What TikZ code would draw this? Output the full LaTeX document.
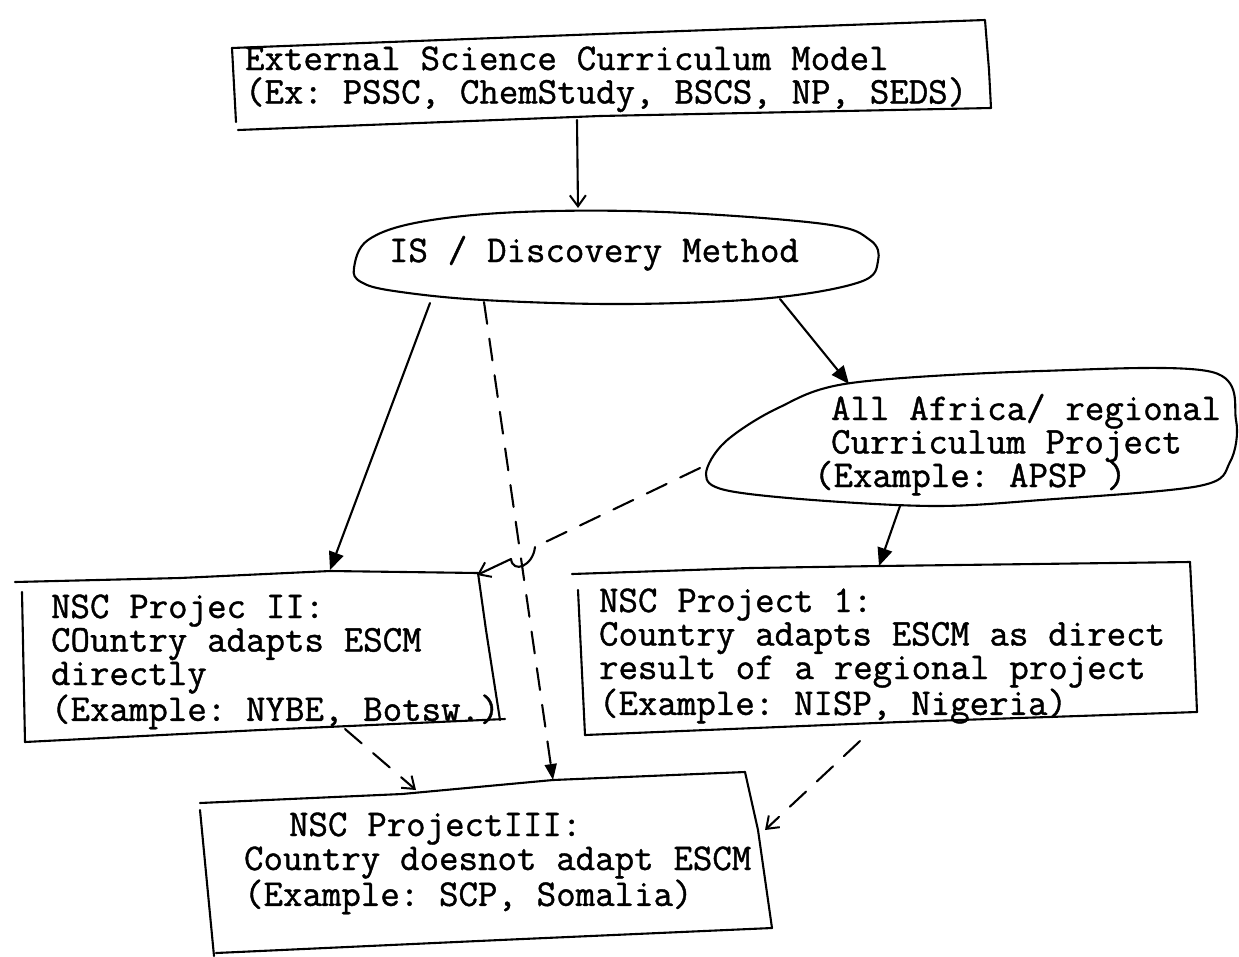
\documentclass[tikz,border=0pt]{standalone}
\usepackage{fontspec}
\newfontfamily\courfont{Latin Modern Mono}[FakeBold=1.1]
\usetikzlibrary{arrows.meta}
\newcommand\typeset{\courfont\fontsize{37.8}{33.5}\selectfont}
\newcommand\wsp{\hspace*{0.525em}}
\begin{document}
\begin{tikzpicture}[x=1pt,y=-1pt,
  line width=2.1pt, line join=round, line cap=round,
  txt/.style={font=\typeset, align=left, inner sep=0pt, anchor=base west, text width=#1},
  sketch/.style={line width=2.1pt},
  solidarrow/.style={-{Triangle[length=18pt,width=15pt]}},
  openarrow/.style={-{Straight Barb[length=11pt,width=16pt,line width=2pt]}},
  dashline/.style={dash pattern=on 22pt off 15pt}]
\useasboundingbox (0,0) rectangle (1239,956);

% ---------- top box ----------
\draw[sketch] (232,48) -- (600,34) -- (985,20) -- (989,70) -- (991,108) -- (600,116) -- (238,130);
\draw[sketch] (232,48) -- (236,122);
\node[txt=790pt] (esc) at (244,70) {External\wsp Science\wsp Curriculum\wsp Model\\(Ex:\wsp PSSC,\wsp ChemStudy,\wsp BSCS,\wsp NP,\wsp SEDS)};
\coordinate (esc-b) at (577,120);

% ---------- IS ellipse ----------
\draw[sketch] plot[smooth cycle, tension=0.6] coordinates {(354,268) (368,240) (420,222) (520,212) (663,212) (824,224) (870,240) (878,261) (860,282) (770,298) (627,304) (483,300) (394,291) (361,282)};
\node[txt=500pt] (isd) at (388,262) {IS\wsp /\wsp Discovery\wsp Method};
\coordinate (isd-t) at (578,208);
\coordinate (isd-l) at (430,303);
\coordinate (isd-m) at (484,302);
\coordinate (isd-r) at (780,299);

% ---------- All Africa ellipse ----------
\draw[sketch] plot[smooth cycle, tension=0.55] coordinates {(851,383) (1041,371) (1212,372) (1236,420) (1230,462) (1199,486) (1041,500) (936,506) (813,500) (725,490) (706,474) (725,442) (778,408)};
\node[txt=420pt] (aa) at (830,420) {All\wsp Africa/\wsp regional\\Curriculum\wsp Project};
\node[txt=420pt] (aaex) at (813,487) {(Example:\wsp APSP\wsp )};
\coordinate (aa-t) at (849,384);
\coordinate (aa-b) at (900,506);
\coordinate (aa-w) at (700,468);

% ---------- NSC Project II ----------
\draw[sketch] (15,582) -- (180,578) -- (330,571) -- (478,573);
\draw[sketch] (478,573) -- (486,630) -- (500,720);
\draw[sketch] (505,719) -- (260,730) -- (25,742);
\draw[sketch] (22,592) -- (25,742);
\node[txt=470pt] (n2) at (50,618) {NSC\wsp Projec\wsp II:\\COuntry\wsp adapts\wsp ESCM\\directly\\(Example:\wsp NYBE,\wsp Botsw.)};
\coordinate (n2-t) at (330,570);
\coordinate (n2-ne) at (477,575);
\coordinate (n2-b) at (345,729);

% ---------- NSC Project 1 ----------
\draw[sketch] (572,574) -- (750,568) -- (880,566) -- (1190,562);
\draw[sketch] (1190,562) -- (1194,640) -- (1197,712);
\draw[sketch] (1197,712) -- (900,722) -- (585,735);
\draw[sketch] (578,590) -- (585,735);
\node[txt=620pt] (n1) at (598,612) {NSC\wsp Project\wsp 1:\\Country\wsp adapts\wsp ESCM\wsp as\wsp direct\\result\wsp of\wsp a\wsp regional\wsp project\\(Example:\wsp NISP,\wsp Nigeria)};
\coordinate (n1-t) at (879,566);
\coordinate (n1-b) at (860,741);

% ---------- NSC Project III ----------
\draw[sketch] (200,803) -- (402,794) -- (553,780) -- (745,772);
\draw[sketch] (745,772) -- (758,830) -- (772,928);
\draw[sketch] (772,928) -- (500,940) -- (216,953);
\draw[sketch] (200,810) -- (214,956);
\node[txt=560pt] (n3) at (288,836) {NSC\wsp ProjectIII:};
\node[txt=560pt] (n3b) at (243,870) {Country\wsp doesnot\wsp adapt\wsp ESCM\\(Example:\wsp SCP,\wsp Somalia)};
\coordinate (n3-t1) at (416,790);
\coordinate (n3-t2) at (553,780);
\coordinate (n3-r) at (765,830);

% ---------- connectors ----------
\draw[openarrow] (esc-b) -- (isd-t);
\draw[solidarrow] (isd-l) -- (n2-t);
\draw[solidarrow] (isd-r) -- (aa-t);
\draw[solidarrow] (aa-b) -- (n1-t);
\draw[dashline, -{Triangle[length=16pt,width=12pt]}] (isd-m) -- (n3-t2);
% dashed line with hop over the vertical dashed line
\coordinate (hop1) at (535,547);
\coordinate (hop2) at (511,559);
\draw[dashline] (aa-w) -- (hop1);
\draw (hop1) .. controls (533,566) and (513,574) .. (hop2);
\draw[openarrow] (hop2) -- (n2-ne);
\draw[dashline, openarrow] (n2-b) -- (n3-t1);
\draw[dashline, openarrow] (n1-b) -- (n3-r);
\end{tikzpicture}
\end{document}
